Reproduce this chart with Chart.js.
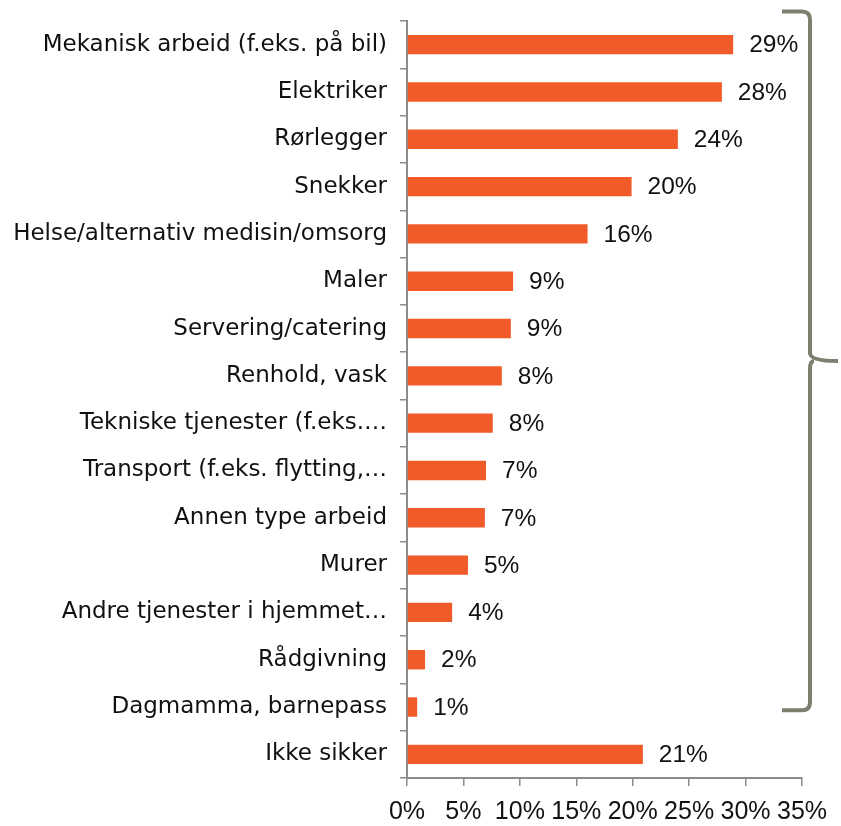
<!DOCTYPE html>
<html>
<head>
<meta charset="utf-8">
<script src="https://cdn.jsdelivr.net/npm/chart.js@4"></script>
<style>
  html, body { margin: 0; padding: 0; background: #fff; }
  #wrap { width: 841px; height: 826px; position: relative; }
</style>
</head>
<body>
<div id="wrap"><canvas id="c" width="841" height="826"></canvas></div>
<script>
const categories = [
  "Mekanisk arbeid (f.eks. på bil)",
  "Elektriker",
  "Rørlegger",
  "Snekker",
  "Helse/alternativ medisin/omsorg",
  "Maler",
  "Servering/catering",
  "Renhold, vask",
  "Tekniske tjenester (f.eks.…",
  "Transport (f.eks. flytting,…",
  "Annen type arbeid",
  "Murer",
  "Andre tjenester i hjemmet…",
  "Rådgivning",
  "Dagmamma, barnepass",
  "Ikke sikker"
];
const values = [28.9, 27.9, 24.0, 19.9, 16.0, 9.4, 9.2, 8.4, 7.6, 7.0, 6.9, 5.4, 4.0, 1.6, 0.9, 20.9];
const valueLabels = ["29%", "28%", "24%", "20%", "16%", "9%", "9%", "8%", "8%", "7%", "7%", "5%", "4%", "2%", "1%", "21%"];
const xTicks = ["0%", "5%", "10%", "15%", "20%", "25%", "30%", "35%"];

const FONT = "'DejaVu Sans', sans-serif";
const NUMFONT = "'Liberation Sans', Arial, sans-serif";

const labelPlugin = {
  id: 'valueLabels',
  afterDatasetsDraw(chart) {
    const ctx = chart.ctx;
    const meta = chart.getDatasetMeta(0);
    ctx.save();
    ctx.font = "24.5px " + NUMFONT;
    ctx.fillStyle = "#111";
    ctx.textAlign = "left";
    ctx.textBaseline = "middle";
    meta.data.forEach((el, i) => {
      ctx.fillText(valueLabels[i], el.x + 16, el.y + 1);
    });
    ctx.restore();
  }
};

const bracePlugin = {
  id: 'brace',
  afterDraw(chart) {
    const ctx = chart.ctx;
    const y = chart.scales.y;
    const band = y.getPixelForValue(1) - y.getPixelForValue(0);
    const top = y.getPixelForValue(0) - band * 0.7;
    const bottom = y.getPixelForValue(14) + band * 0.07;
    const mid = (top + bottom) / 2;
    const xL = 782, xV = 810, xP = 838;
    const r = 8;
    ctx.save();
    ctx.strokeStyle = "#7f7f6f";
    ctx.lineWidth = 4;
    ctx.lineCap = "butt";
    ctx.beginPath();
    ctx.moveTo(xL, top);
    ctx.lineTo(xV - r, top);
    ctx.quadraticCurveTo(xV, top, xV, top + r);
    ctx.lineTo(xV, mid - r);
    ctx.quadraticCurveTo(xV, mid, xP, mid);
    ctx.moveTo(xV + 4, mid);
    ctx.quadraticCurveTo(xV, mid, xV, mid + r);
    ctx.lineTo(xV, bottom - r);
    ctx.quadraticCurveTo(xV, bottom, xV - r, bottom);
    ctx.lineTo(xL, bottom);
    ctx.stroke();
    ctx.restore();
  }
};

new Chart(document.getElementById('c'), {
  type: 'bar',
  data: {
    labels: categories,
    datasets: [{
      data: values,
      backgroundColor: '#F15A29',
      borderWidth: 0,
      barPercentage: 0.41,
      categoryPercentage: 1.0
    }]
  },
  options: {
    indexAxis: 'y',
    responsive: false,
    animation: false,
    devicePixelRatio: 1,
    layout: { padding: { left: 0, right: 39, top: 21, bottom: 0 } },
    plugins: { legend: { display: false }, tooltip: { enabled: false } },
    scales: {
      y: {
        type: 'category',
        offset: true,
        grid: { offset: true, drawOnChartArea: false, tickLength: 7, color: '#8c8c8c', lineWidth: 1.5 },
        border: { color: '#8c8c8c', width: 2 },
        ticks: { color: '#111', font: { family: FONT, size: 23 }, padding: 13, autoSkip: false },
        afterFit(scale) { scale.width = 407; scale.paddingTop = 0; scale.paddingBottom = 0; }
      },
      x: {
        min: 0, max: 35,
        grid: { drawOnChartArea: false, tickLength: 8, color: '#8c8c8c', lineWidth: 1.5 },
        border: { color: '#8c8c8c', width: 2 },
        ticks: {
          stepSize: 5,
          color: '#111',
          font: { family: NUMFONT, size: 25 },
          padding: 11,
          maxRotation: 0,
          autoSkip: false,
          callback: (v, i) => xTicks[i]
        },
        afterFit(scale) { scale.height = 48; }
      }
    }
  },
  plugins: [labelPlugin, bracePlugin]
});
</script>
</body>
</html>
